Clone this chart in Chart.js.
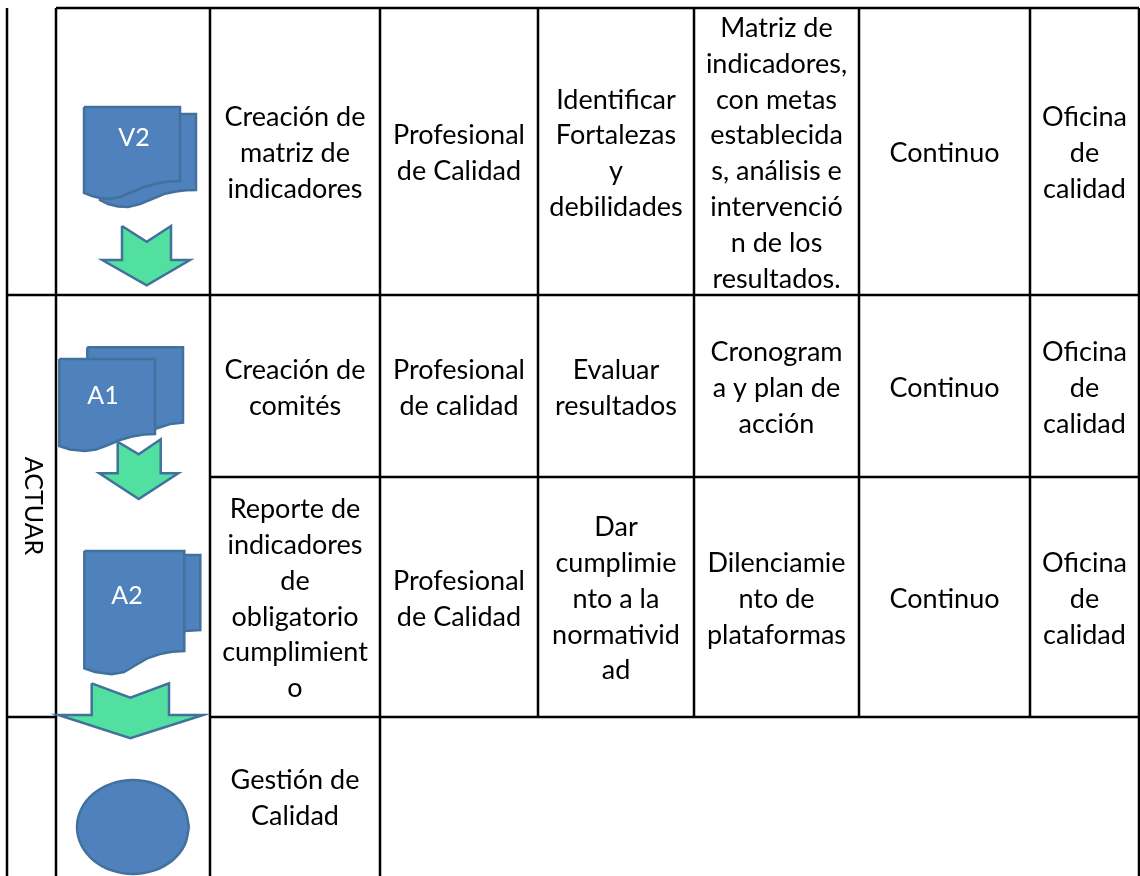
<!DOCTYPE html>
<html lang="es">
<head>
<meta charset="utf-8">
<title>Gestión de Calidad</title>
<script src="https://cdn.jsdelivr.net/npm/chart.js@4"></script>
<style>
  html, body { margin: 0; padding: 0; background: #fff; }
  canvas { display: block; }
</style>
</head>
<body>
<canvas id="flowChart" width="1140" height="876"></canvas>
<script>
// Table rules, as axis values
const colEdges = [7, 56, 210, 380, 538, 694, 859, 1030, 1139];
const rowEdges = [8, 295, 477, 717, 876];

// [column edge, first row edge, last row edge]
const verticalRules = [
  [0, 0, 4], [1, 0, 4], [2, 0, 4], [3, 0, 4],
  [4, 0, 3], [5, 0, 3], [6, 0, 3], [7, 0, 3], [8, 0, 4],
];
// [row edge, first column edge, last column edge]
const horizontalRules = [
  [0, 1, 8], [1, 0, 8], [2, 2, 8], [3, 0, 1], [3, 2, 8],
];

// Cell texts: [column, row, lines]
const cellTexts = [
  [2, 0, ["Creación de", "matriz de", "indicadores"]],
  [3, 0, ["Profesional", "de Calidad"]],
  [4, 0, ["Identificar", "Fortalezas", "y", "debilidades"]],
  [5, 0, ["Matriz de", "indicadores,", "con metas", "establecida", "s, análisis e", "intervenció", "n de los", "resultados."]],
  [6, 0, ["Continuo"]],
  [7, 0, ["Oficina", "de", "calidad"]],
  [2, 1, ["Creación de", "comités"]],
  [3, 1, ["Profesional", "de calidad"]],
  [4, 1, ["Evaluar", "resultados"]],
  [5, 1, ["Cronogram", "a y plan de", "acción"]],
  [6, 1, ["Continuo"]],
  [7, 1, ["Oficina", "de", "calidad"]],
  [2, 2, ["Reporte de", "indicadores", "de", "obligatorio", "cumplimient", "o"]],
  [3, 2, ["Profesional", "de Calidad"]],
  [4, 2, ["Dar", "cumplimie", "nto a la", "normativid", "ad"]],
  [5, 2, ["Dilenciamie", "nto de", "plataformas"]],
  [6, 2, ["Continuo"]],
  [7, 2, ["Oficina", "de", "calidad"]],
  [2, 3, ["Gestión de", "Calidad"]],
];

// Labels on the shapes: [text, x, y]
const shapeLabels = [
  ["V2", 134, 138],
  ["A1", 103, 396],
  ["A2", 127, 596],
];
const sideLabel = ["ACTUAR", 33, 506];

// Shape outlines
const v2Back = [[100, 114], [196, 114], [196, 190], [186, 190.3], [176, 191.5], [164, 194], [152, 199], [140, 204], [128, 207], [118, 206.5], [108, 204], [100, 200], [100, 114]];
const v2Front = [[84, 107], [180, 107], [180, 181], [168, 181.5], [156, 183.5], [144, 187], [132, 192], [120, 197], [110, 199], [100, 198], [92, 196], [84, 193], [84, 107]];
const v2Arrow = [[122, 226], [146.7, 241.7], [171, 226], [171, 260], [190, 260], [146.7, 285.3], [102.3, 260], [122, 260], [122, 226]];
const a1Arrow = [[117.7, 441.7], [138.7, 454.3], [160.7, 439.3], [160.7, 473.3], [178.3, 473.3], [138.7, 499], [99.3, 473.3], [117.7, 473.3], [117.7, 441.7]];
const a1Back = [[87.3, 347.3], [183, 347.3], [183, 422.7], [170, 424], [155, 429], [87.3, 429], [87.3, 347.3]];
const a1Front = [[59.3, 359], [155, 359], [155, 434], [144, 434.6], [132, 436.5], [120, 440], [108, 445], [96, 449.5], [85, 451], [70, 449.5], [59.3, 446], [59.3, 359]];
const a2Back = [[100, 555], [200.3, 555], [200.3, 630], [184.3, 631], [100, 631], [100, 555]];
const a2Front = [[84.3, 551], [184.3, 551], [184.3, 651], [172, 651.8], [160, 654], [148, 658], [136, 665], [124, 672], [111.7, 674.3], [95, 672], [84.3, 668.3], [84.3, 551]];
const a2Arrow = [[91.7, 683.3], [130.3, 697.7], [169, 683.3], [169, 715], [203.3, 715], [130.3, 738.3], [58.3, 715], [91.7, 715], [91.7, 683.3]];
const endCircle = [[189, 827], [184.7, 845], [172.6, 860.2], [154.4, 870.4], [133, 874], [111.6, 870.4], [93.4, 860.2], [81.3, 845], [77, 827], [81.3, 809], [93.4, 793.8], [111.6, 783.6], [133, 780], [154.4, 783.6], [172.6, 793.8], [184.7, 809], [189, 827]];

const BLUE = "#4f81bd";
const BLUE_EDGE = "#41719c";
const GREEN = "#51e0a0";
const FONT = "Lato";
const CELL_FONT_SIZE = 27;
const LABEL_FONT_SIZE = 25;
const LINE_HEIGHT = 35.8;

function toPoints(pairs) {
  return pairs.map((p) => ({ x: p[0], y: p[1] }));
}

function ruleDataset(points) {
  return {
    data: points,
    showLine: true,
    borderColor: "#000",
    borderWidth: 2.5,
    pointRadius: 0,
    fill: false,
    clip: false,
  };
}

function shapeDataset(pairs, color, tension) {
  return {
    data: toPoints(pairs),
    showLine: true,
    borderColor: BLUE_EDGE,
    borderWidth: 2.5,
    backgroundColor: color,
    pointRadius: 0,
    fill: "shape",
    tension: tension || 0,
  };
}

const rules = [
  ...verticalRules.map((r) => ruleDataset([
    { x: colEdges[r[0]], y: rowEdges[r[1]] },
    { x: colEdges[r[0]], y: rowEdges[r[2]] },
  ])),
  ...horizontalRules.map((r) => ruleDataset([
    { x: colEdges[r[1]], y: rowEdges[r[0]] },
    { x: colEdges[r[2]], y: rowEdges[r[0]] },
  ])),
];

// In painting order, first one is at the bottom
const layers = [
  ...rules,
  shapeDataset(v2Back, BLUE),
  shapeDataset(v2Front, BLUE),
  shapeDataset(v2Arrow, GREEN),
  shapeDataset(a1Arrow, GREEN),
  shapeDataset(a1Back, BLUE),
  shapeDataset(a1Front, BLUE),
  shapeDataset(a2Back, BLUE),
  shapeDataset(a2Front, BLUE),
  shapeDataset(a2Arrow, GREEN),
  shapeDataset(endCircle, BLUE, 0.35),
];
layers.forEach((d, i) => { d.order = layers.length - i; });

// Writes the table texts at the positions given by the scales
const textPlugin = {
  id: "tableText",
  afterDatasetsDraw(chart) {
    const { ctx, scales } = chart;
    ctx.save();
    ctx.textAlign = "center";
    ctx.textBaseline = "middle";
    ctx.font = CELL_FONT_SIZE + "px " + FONT;
    ctx.fillStyle = "#000";

    cellTexts.forEach(([col, row, lines]) => {
      const x = scales.x.getPixelForValue((colEdges[col] + colEdges[col + 1]) / 2);
      const yMid = scales.y.getPixelForValue((rowEdges[row] + rowEdges[row + 1]) / 2 + 2);
      lines.forEach((line, i) => {
        ctx.fillText(line, x, yMid + (i - (lines.length - 1) / 2) * LINE_HEIGHT);
      });
    });

    ctx.font = LABEL_FONT_SIZE + "px " + FONT;
    ctx.fillStyle = "#fff";
    shapeLabels.forEach(([text, x, y]) => {
      ctx.fillText(text, scales.x.getPixelForValue(x), scales.y.getPixelForValue(y));
    });

    ctx.fillStyle = "#000";
    ctx.translate(scales.x.getPixelForValue(sideLabel[1]), scales.y.getPixelForValue(sideLabel[2]));
    ctx.rotate(Math.PI / 2);
    ctx.fillText(sideLabel[0], 0, 0);
    ctx.restore();
  },
};

new Chart(document.getElementById("flowChart"), {
  type: "scatter",
  data: { datasets: layers },
  plugins: [textPlugin],
  options: {
    responsive: false,
    animation: false,
    layout: { padding: 0 },
    plugins: { legend: { display: false }, tooltip: { enabled: false } },
    scales: {
      x: { type: "linear", min: 0, max: 1140, display: false },
      y: { type: "linear", min: 0, max: 876, reverse: true, display: false },
    },
  },
});
</script>
</body>
</html>
